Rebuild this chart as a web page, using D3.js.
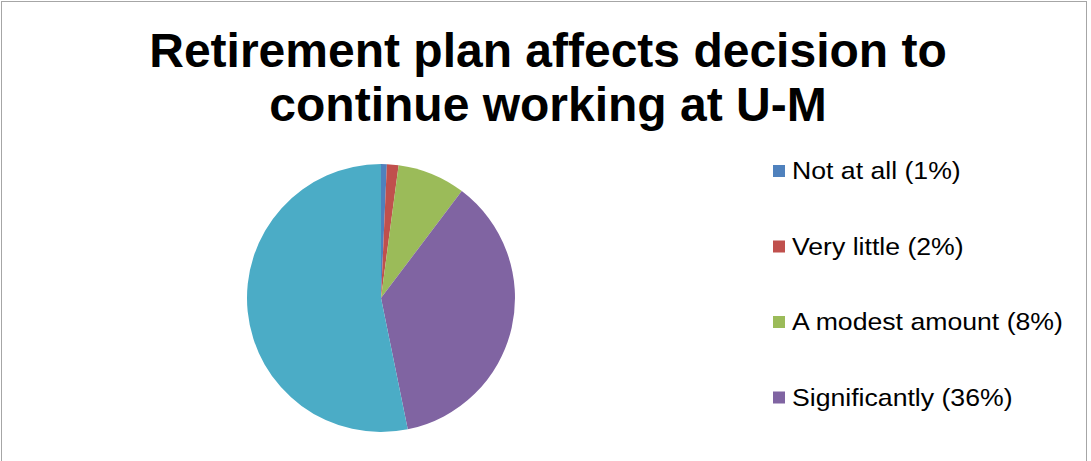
<!DOCTYPE html>
<html>
<head>
<meta charset="utf-8">
<script src="https://cdn.jsdelivr.net/npm/d3@7"></script>
<style>
    body { margin: 0; background: #fff; }
    svg { display: block; font-family: "Liberation Sans", Arial, sans-serif; }
</style>
</head>
<body>
<div id="chart"></div>
<script>
(function () {
    "use strict";

    var categories = ["Not at all", "Very little", "A modest amount", "Significantly", "Extremely"];
    var values = [0.7, 1.4, 8.2, 36.5, 53.2];
    var legendLabels = ["Not at all (1%)", "Very little (2%)", "A modest amount (8%)", "Significantly (36%)", "Extremely (53%)"];
    var colors = ["#4F81BD", "#C0504D", "#9BBB59", "#8064A2", "#4BACC6"];
    var titleLines = ["Retirement plan affects decision to", "continue working at U-M"];

    var width = 1091, height = 461;
    var cx = 381, cy = 298, radius = 134;
    var legendRectSize = 12;
    var legendSpacing = 75.5;

    var data = categories.map(function (c, i) {
        return { label: c, value: values[i], legend: legendLabels[i] };
    });

    var svg = d3.select("#chart")
        .append("svg")
        .attr("width", width)
        .attr("height", height);

    // chart area border (bottom is cut off)
    svg.append("rect")
        .attr("x", 1.5)
        .attr("y", 1.5)
        .attr("width", 1085)
        .attr("height", height + 10)
        .attr("fill", "none")
        .attr("stroke", "#a6a6a6")
        .attr("stroke-width", 1);

    // title
    svg.append("g")
        .selectAll("text")
        .data(titleLines)
        .enter()
        .append("text")
        .attr("x", 548)
        .attr("y", function (d, i) { return 67 + i * 54; })
        .attr("text-anchor", "middle")
        .attr("font-size", 48)
        .attr("font-weight", "bold")
        .attr("fill", "#000")
        .text(function (d) { return d; });

    var color = d3.scaleOrdinal()
        .domain(categories)
        .range(colors);

    var pie = d3.pie()
        .sort(null)
        .value(function (d) { return d.value; });

    var path = d3.arc()
        .outerRadius(radius)
        .innerRadius(0);

    var g = svg.append("g")
        .attr("transform", "translate(" + cx + "," + cy + ")");

    g.selectAll(".arc")
        .data(pie(data))
        .enter()
        .append("path")
        .attr("class", "arc")
        .attr("d", path)
        .attr("fill", function (d) { return color(d.data.label); });

    // legend - only the entries that fit inside the (clipped) chart area
    var legendData = data.filter(function (d, i) {
        return 165 + i * legendSpacing + 20 < height;
    });

    var legend = svg.selectAll(".legend")
        .data(legendData)
        .enter()
        .append("g")
        .attr("class", "legend")
        .attr("transform", function (d, i) {
            return "translate(773," + (165 + i * legendSpacing) + ")";
        });

    legend.append("rect")
        .attr("width", legendRectSize)
        .attr("height", legendRectSize)
        .attr("fill", function (d) { return color(d.label); });

    legend.append("text")
        .attr("transform", "translate(19,14) scale(1.11,1)")
        .attr("font-size", 24)
        .attr("fill", "#000")
        .text(function (d) { return d.legend; });
})();
</script>
</body>
</html>
